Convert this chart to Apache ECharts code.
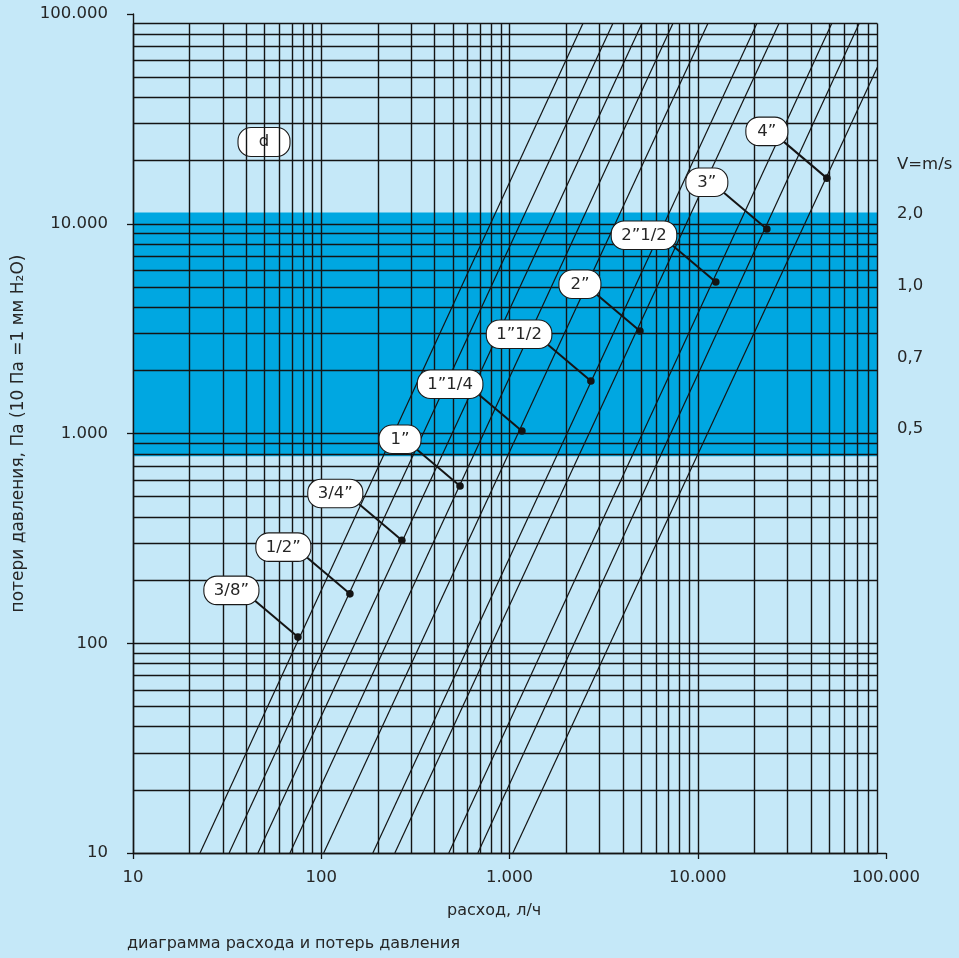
<!DOCTYPE html>
<html><head><meta charset="utf-8">
<script src="https://cdn.jsdelivr.net/npm/echarts@6/dist/echarts.min.js"></script>
<style>html,body{margin:0;padding:0;background:#C5E8F8;} #c{width:959px;height:958px;}</style>
</head><body><div id="c"></div>
<script>
// ---- data ----
const xTickLabels = ['10', '100', '1.000', '10.000', '100.000'];
const yTickLabels = ['10', '100', '1.000', '10.000', '100.000'];
const gridDecades = [10, 100, 1000, 10000];
const gridMultiples = [1, 2, 3, 4, 5, 6, 7, 8, 9];
const pipeSizes = ['3/8”', '1/2”', '3/4”', '1”', '1”1/4', '1”1/2', '2”', '2”1/2', '3”', '4”'];
const flowStart = [22.7, 32.4, 46.1, 68.2, 103, 188, 246, 476, 679, 1042];
const lossStart = [10, 10, 10, 10, 10, 10, 10, 10, 10, 10];
const flowEnd = [2455, 3540, 5050, 7380, 11320, 20600, 27000, 51500, 72000, 90000];
const lossEnd = [90000, 90000, 90000, 90000, 90000, 90000, 90000, 90000, 90000, 55800];
const markerFlow = [75.2, 142, 268, 546, 1164, 2706, 4930, 12470, 23280, 48500];
const markerLoss = [107, 172, 310, 562, 1028, 1780, 3080, 5280, 9440, 16500];
const bandLoss = [780, 11300];
const velocityLabels = ['V=m/s', '2,0', '1,0', '0,7', '0,5'];
const xName = 'расход, л/ч';
const yName = 'потери давления, Па (10 Па =1 мм H₂O)';
const caption = 'диаграмма расхода и потерь давления';
const diameterTag = 'd';

// ---- derived ----
const gridValues = gridDecades.flatMap(d => gridMultiples.map(k => d * k));
const gridMin = gridValues[0], gridMax = gridValues[gridValues.length - 1];
const gridLineData = [];
gridValues.forEach(v => {
  gridLineData.push([{ coord: [v, gridMin] }, { coord: [v, gridMax] }]);
  gridLineData.push([{ coord: [gridMin, v] }, { coord: [gridMax, v] }]);
});

const FONT = '"DejaVu Sans", sans-serif';
const TXT = '#262626';
const mctx = document.createElement('canvas').getContext('2d');
function tw(t, size) { mctx.font = size + 'px "DejaVu Sans"'; return mctx.measureText(t).width; }

const tickFmt = labels => v => labels[Math.round(Math.log10(v)) - 1] || '';

const series = [];
series.push({
  type: 'line', data: [], z: 1, silent: true,
  markArea: { silent: true, itemStyle: { color: '#00A7E1', opacity: 1 },
    data: [[{ coord: [gridMin, bandLoss[0]] }, { coord: [gridMax, bandLoss[1]] }]] }
});
series.push({
  type: 'line', data: [], z: 2, silent: true,
  markLine: { silent: true, symbol: ['none', 'none'], label: { show: false }, animation: false,
    lineStyle: { color: '#141414', width: 1.4, type: 'solid', opacity: 1 },
    emphasis: { disabled: true }, data: gridLineData }
});
pipeSizes.forEach((name, i) => {
  series.push({
    type: 'line', name: name, z: 3, silent: true, symbol: 'none',
    lineStyle: { color: '#141414', width: 1.2 },
    data: [[flowStart[i], lossStart[i]], [flowEnd[i], lossEnd[i]]]
  });
});
series.push({
  type: 'custom', z: 10, silent: true,
  data: markerFlow.map((f, i) => [f, markerLoss[i]]),
  renderItem: function (params, api) {
    const p = api.coord([api.value(0), api.value(1)]);
    const name = pipeSizes[params.dataIndex];
    const w = Math.max(42, tw(name, 16.5) + 20);
    const right = p[0] - 39, cy = p[1] - 47;
    return {
      type: 'group', children: [
        { type: 'line', shape: { x1: p[0], y1: p[1], x2: p[0] - 45, y2: p[1] - 38 }, style: { stroke: '#141414', lineWidth: 2 } },
        { type: 'circle', shape: { cx: p[0], cy: p[1], r: 3.8 }, style: { fill: '#141414' } },
        { type: 'rect', shape: { x: right - w, y: cy - 14, width: w, height: 28.5, r: 13 }, style: { fill: '#ffffff', stroke: '#1a1a1a', lineWidth: 1.1 } },
        { type: 'text', style: { text: name, x: right - w / 2, y: cy + 1, align: 'center', verticalAlign: 'middle', font: '16.5px ' + FONT, fill: TXT } }
      ]
    };
  }
});

const velY = [165, 214, 286, 358, 429];
const graphic = [
  { type: 'group', x: 264, y: 142, z: 100, children: [
    { type: 'rect', shape: { x: -26, y: -14.5, width: 52, height: 29, r: 13 }, style: { fill: '#fff', stroke: '#1a1a1a', lineWidth: 1.1 } },
    { type: 'text', style: { text: diameterTag, x: 0, y: 0, align: 'center', verticalAlign: 'middle', font: '16.5px ' + FONT, fill: TXT } }
  ]},
  ...velocityLabels.map((t, i) => ({ type: 'text', x: 897, y: velY[i], style: { text: t, align: 'left', verticalAlign: 'middle', font: '16.5px ' + FONT, fill: TXT } })),
  { type: 'text', x: 447, y: 911, style: { text: xName, align: 'left', verticalAlign: 'middle', font: '16px ' + FONT, fill: TXT } },
  { type: 'text', x: 127, y: 944, style: { text: caption, align: 'left', verticalAlign: 'middle', font: '16px ' + FONT, fill: TXT } }
];

const chart = echarts.init(document.getElementById('c'), null, { renderer: 'canvas' });
chart.setOption({
  backgroundColor: '#C5E8F8',
  animation: false,
  grid: { left: 133, right: 73, top: 14, bottom: 105 },
  xAxis: {
    type: 'log', logBase: 10, min: 10, max: 100000, splitNumber: 4,
    axisLine: { show: true, lineStyle: { color: '#141414', width: 1.4 } },
    axisTick: { show: true, length: 6, lineStyle: { color: '#141414', width: 1.3 } },
    minorTick: { show: false }, splitLine: { show: false }, minorSplitLine: { show: false },
    axisLabel: { margin: 16, fontSize: 16.5, fontFamily: FONT, color: TXT, formatter: tickFmt(xTickLabels), showMinLabel: true, showMaxLabel: true }
  },
  yAxis: {
    type: 'log', logBase: 10, min: 10, max: 100000, splitNumber: 4,
    name: yName, nameLocation: 'middle', nameGap: 106, nameRotate: 90,
    nameTextStyle: { fontSize: 17, fontFamily: FONT, color: TXT },
    axisLine: { show: true, lineStyle: { color: '#141414', width: 1.4 } },
    axisTick: { show: true, length: 6, lineStyle: { color: '#141414', width: 1.3 } },
    minorTick: { show: false }, splitLine: { show: false }, minorSplitLine: { show: false },
    axisLabel: { margin: 25, fontSize: 16.5, fontFamily: FONT, color: TXT, formatter: tickFmt(yTickLabels), showMinLabel: true, showMaxLabel: true }
  },
  graphic: graphic,
  series: series
});
</script></body></html>
